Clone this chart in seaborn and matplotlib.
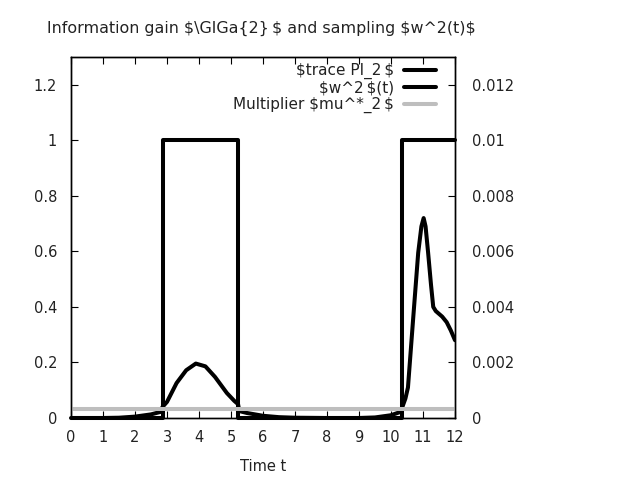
import numpy as np
import pandas as pd
import matplotlib
matplotlib.use("Agg")
import matplotlib.pyplot as plt
import seaborn as sns

sns.set_style("white")
plt.rcParams['font.family'] = ['DejaVu Sans']
plt.rcParams['text.parse_math'] = False

# trace PI_2 (step function, left axis)
trace_t = [0, 2.86, 5.22, 10.34, 12]
trace_v = [0, 1, 0, 1, 1]

# w^2(t) (right axis)
w2_t = [0, 1.0, 1.5, 2.0, 2.5, 2.8, 2.86, 3.0, 3.3, 3.6, 3.9, 4.2, 4.5, 4.87, 5.1, 5.22,
        5.26, 5.5, 6.0, 6.5, 7.0, 8.0, 9.0, 9.5, 10.0, 10.3, 10.34, 10.45, 10.53, 10.69,
        10.85, 10.95, 11.02, 11.08, 11.16, 11.25, 11.32, 11.4, 11.47, 11.6, 11.74, 11.87, 12.0]
w2_v = [0, 0, 0.00001, 0.00005, 0.00013, 0.00022, 0.0004, 0.00058, 0.00126, 0.00172,
        0.00196, 0.00186, 0.00148, 0.0009, 0.00062, 0.0005,
        0.00025, 0.00018, 0.00008, 0.00003, 0.00001, 0, 0, 0.00002, 0.0001, 0.00022,
        0.00035, 0.0007, 0.0011, 0.00354, 0.00595, 0.0069, 0.0072, 0.0069, 0.00595,
        0.0048, 0.004, 0.00385, 0.00378, 0.00365, 0.00345, 0.00315, 0.0028]

# multiplier mu*_2 (constant)
mult_t = [0, 12]
mult_v = [0.00033, 0.00033]

trace_df = pd.DataFrame({'t': trace_t, 'v': trace_v})
w2_df = pd.DataFrame({'t': w2_t, 'v': w2_v})
mult_df = pd.DataFrame({'t': mult_t, 'v': mult_v})

fig = plt.figure(figsize=(6.4, 4.8), dpi=100)
ax = fig.add_axes([71 / 640, 62 / 480, 384 / 640, 361 / 480])
ax2 = ax.twinx()

sp = '\u2009'
sns.lineplot(data=trace_df, x='t', y='v', ax=ax, color='black', lw=2.9,
             drawstyle='steps-post', estimator=None, sort=False,
             label='$trace PI_2' + sp + '$', legend=False, clip_on=False)
sns.lineplot(data=w2_df, x='t', y='v', ax=ax2, color='black', lw=2.9,
             estimator=None, sort=False, label='$w^2' + sp + '$(t)', legend=False)
sns.lineplot(data=mult_df, x='t', y='v', ax=ax2, color='#bebebe', lw=2.9,
             estimator=None, sort=False, label='Multiplier $mu^*_2' + sp + '$', legend=False)

fs = 10.5
ax.set_xlim(0, 12)
ax.set_ylim(0, 1.3)
ax2.set_ylim(0, 0.013)
ax.set_xticks(range(0, 13))
ax.set_yticks([0, 0.2, 0.4, 0.6, 0.8, 1, 1.2])
ax.set_yticklabels(['0', '0.2', '0.4', '0.6', '0.8', '1', '1.2'])
ax2.set_yticks([0, 0.002, 0.004, 0.006, 0.008, 0.01, 0.012])
ax2.set_yticklabels(['0', '0.002', '0.004', '0.006', '0.008', '0.01', '0.012'])

ax.tick_params(axis='x', direction='in', length=5, top=True, bottom=True,
               labelsize=fs, pad=9, colors='black', labelcolor='#222222')
ax.tick_params(axis='y', direction='in', length=5, left=True, right=False,
               labelsize=fs, pad=10, colors='black', labelcolor='#222222')
ax2.tick_params(axis='y', direction='in', length=5, right=True, left=False,
                labelsize=fs, pad=12, colors='black', labelcolor='#222222')
for a in (ax, ax2):
    for s in a.spines.values():
        s.set_color('black')
        s.set_linewidth(1)
ax.set_xlabel('Time t', fontsize=fs, labelpad=10, color='#222222')
ax.set_ylabel('')
ax2.set_ylabel('')

fig.text(47 / 640, 1 - 28 / 480,
         'Information gain $\\GIGa{2}' + sp + '$ and sampling $w^2(t)$',
         fontsize=11.4, ha='left', va='center', color='#222222')

h1, l1 = ax.get_legend_handles_labels()
h2, l2 = ax2.get_legend_handles_labels()
leg = ax2.legend(h1 + h2, l1 + l2, loc='upper right', frameon=False, markerfirst=False,
                 fontsize=11, handlelength=2.1, handletextpad=0.65, labelspacing=0.1,
                 bbox_to_anchor=(436 / 640, 1 - 63 / 480), bbox_transform=fig.transFigure,
                 borderaxespad=0, borderpad=0, labelcolor='#222222')

fig.savefig('out.png', dpi=100)
